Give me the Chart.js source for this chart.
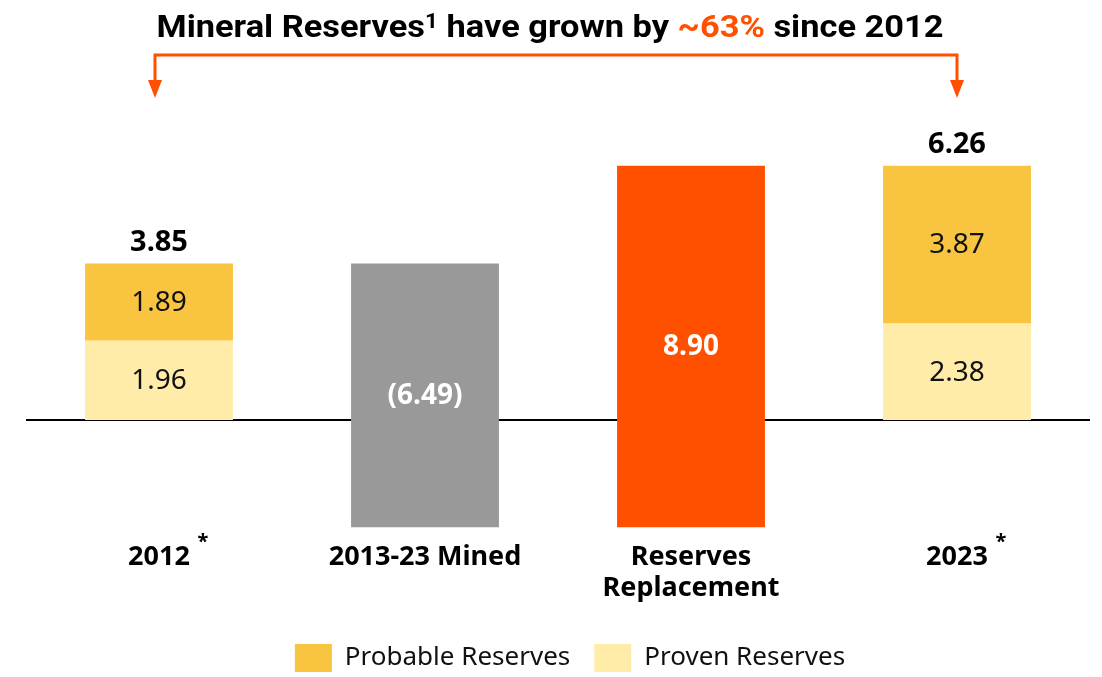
<!DOCTYPE html>
<html>
<head>
<meta charset="utf-8">
<script src="https://cdn.jsdelivr.net/npm/chart.js@4.4.0/dist/chart.umd.min.js"></script>
<style>
  html, body { margin: 0; padding: 0; background: #fff; }
  #wrap { width: 1102px; height: 677px; }
</style>
</head>
<body>
<div id="wrap"><canvas id="reservesChart"></canvas></div>
<script>
// values (Moz)
const categories = [['2012'], ['2013-23 Mined'], ['Reserves', 'Replacement'], ['2023']];
const provenValues = [1.96, null, null, 2.38];
const probableValues = [1.89, null, null, 3.87];
const totalValues = [3.85, null, null, 6.26];
const minedValue = -6.49;
const replacementValue = 8.90;
const starred = [true, false, false, true];

const FONT = '"Noto Sans", "DejaVu Sans", sans-serif';
const ORANGE = '#FF5000';

// waterfall: mined starts from the 2012 total, replacement starts where mined ends
const minedLow = totalValues[0] + minedValue;
const provenBars = provenValues.map(v => v == null ? null : [0, v]);
const probableBars = probableValues.map((v, i) => v == null ? null : [provenValues[i], totalValues[i]]);
const minedBars = [null, [minedLow, totalValues[0]], null, null];
const replacementBars = [null, null, [minedLow, minedLow + replacementValue], null];

const barLabels = {
    0: probableValues.map(v => v == null ? null : v.toFixed(2)),
    1: provenValues.map(v => v == null ? null : v.toFixed(2)),
    2: [null, '(' + Math.abs(minedValue).toFixed(2) + ')', null, null],
    3: [null, null, replacementValue.toFixed(2), null]
};

const baseline = {
    id: 'baseline',
    afterLayout(chart) {
        // legend sits a little right of centre in the original
        chart.legend.left += 12;
        chart.legend.right += 12;
    },
    beforeDatasetsDraw(chart) {
        const {ctx, chartArea, scales} = chart;
        const y = scales.y.getPixelForValue(0);
        ctx.save();
        ctx.strokeStyle = '#000';
        ctx.lineWidth = 2;
        ctx.beginPath();
        ctx.moveTo(chartArea.left, y);
        ctx.lineTo(chartArea.right, y);
        ctx.stroke();
        ctx.restore();
    }
};

const extras = {
    id: 'extras',
    afterDraw(chart) {
        const {ctx, scales} = chart;
        const x = scales.x;
        ctx.save();
        ctx.textAlign = 'center';
        ctx.textBaseline = 'middle';

        // numbers inside the bars
        chart.data.datasets.forEach((ds, di) => {
            const meta = chart.getDatasetMeta(di);
            meta.data.forEach((bar, i) => {
                const txt = barLabels[di][i];
                if (!txt) return;
                const mid = (bar.y + bar.base) / 2;
                const white = di >= 2;
                ctx.fillStyle = white ? '#fff' : '#111';
                ctx.font = (white ? 'bold ' : '') + '28px ' + FONT;
                ctx.fillText(txt, bar.x, mid + 1);
            });
        });

        // totals above the stacks
        ctx.fillStyle = '#000';
        ctx.font = 'bold 29px ' + FONT;
        totalValues.forEach((v, i) => {
            if (v == null) return;
            const top = scales.y.getPixelForValue(v);
            ctx.fillText(v.toFixed(2), x.getPixelForTick(i), top - 21);
        });

        // asterisks beside the year labels
        ctx.font = 'bold 27px ' + FONT;
        starred.forEach((s, i) => {
            if (!s) return;
            const w = ctx.measureText(categories[i][0]).width;
            ctx.save();
            ctx.font = 'bold 20px ' + FONT;
            ctx.fillText('*', x.getPixelForTick(i) + w / 2 + 13, 542);
            ctx.restore();
        });

        // headline with the orange part
        const parts = [
            {t: 'Mineral Reserves', c: '#000', s: 32},
            {t: '1', c: '#000', s: 21, up: 9},
            {t: ' have grown by ', c: '#000', s: 32},
            {t: '~63%', c: ORANGE, s: 32},
            {t: ' since 2012', c: '#000', s: 32}
        ];
        let total = 0;
        parts.forEach(p => {
            ctx.font = 'bold ' + p.s + 'px Roboto, ' + FONT;
            p.w = ctx.measureText(p.t).width;
            total += p.w;
        });
        const sx = 787 / total;
        ctx.save();
        ctx.translate(550, 0);
        ctx.scale(sx, 1);
        ctx.textAlign = 'left';
        ctx.textBaseline = 'alphabetic';
        let cx = -total / 2;
        parts.forEach(p => {
            ctx.font = 'bold ' + p.s + 'px Roboto, ' + FONT;
            ctx.fillStyle = p.c;
            ctx.fillText(p.t, cx, 37 - (p.up || 0));
            cx += p.w;
        });
        ctx.restore();

        // bracket with arrows from 2012 to 2023
        const x0 = x.getPixelForTick(0) - 4;
        const x1 = x.getPixelForTick(3);
        const yTop = 55, yEnd = 82;
        ctx.strokeStyle = ORANGE;
        ctx.fillStyle = ORANGE;
        ctx.lineWidth = 3;
        ctx.beginPath();
        ctx.moveTo(x0, yEnd);
        ctx.lineTo(x0, yTop);
        ctx.lineTo(x1, yTop);
        ctx.lineTo(x1, yEnd);
        ctx.stroke();
        [x0, x1].forEach(ax => {
            ctx.beginPath();
            ctx.moveTo(ax - 7, yEnd - 2);
            ctx.lineTo(ax + 7, yEnd - 2);
            ctx.lineTo(ax, yEnd + 16);
            ctx.closePath();
            ctx.fill();
        });
        ctx.restore();
    }
};

const barOpts = {grouped: false, categoryPercentage: 1, barPercentage: 0.556, borderWidth: 0, borderSkipped: false};

new Chart(document.getElementById('reservesChart'), {
    type: 'bar',
    data: {
        labels: categories,
        datasets: [
            Object.assign({label: 'Probable Reserves', data: probableBars, backgroundColor: '#F9C540'}, barOpts),
            Object.assign({label: 'Proven Reserves', data: provenBars, backgroundColor: '#FFECA9'}, barOpts),
            Object.assign({label: 'Mined', data: minedBars, backgroundColor: '#999999'}, barOpts),
            Object.assign({label: 'Reserves Replacement', data: replacementBars, backgroundColor: ORANGE}, barOpts)
        ]
    },
    options: {
        responsive: true,
        maintainAspectRatio: false,
        animation: false,
        layout: {padding: {top: 95, left: 26, right: 12, bottom: -5}},
        plugins: {
            legend: {
                position: 'bottom',
                labels: {
                    filter: item => item.datasetIndex < 2,
                    boxWidth: 37,
                    boxHeight: 28,
                    padding: 24,
                    color: '#111',
                    font: {family: FONT, size: 26}
                }
            },
            tooltip: {enabled: false}
        },
        scales: {
            x: {
                grid: {display: false, drawTicks: false},
                border: {display: false},
                ticks: {padding: 0, color: '#000', font: {family: FONT, size: 27, weight: 'bold', lineHeight: 1.15}},
                afterFit(scale) { scale.height += 16; }
            },
            y: {display: false, min: -3, max: 8}
        }
    },
    plugins: [baseline, extras]
});
</script>
</body>
</html>
